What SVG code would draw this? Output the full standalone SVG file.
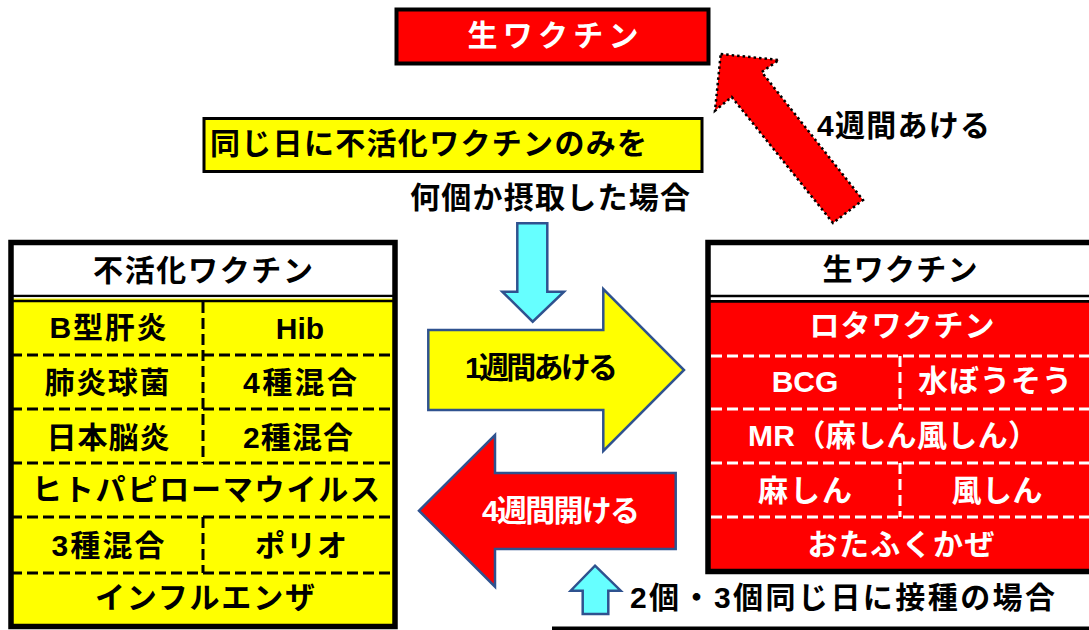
<svg xmlns="http://www.w3.org/2000/svg" width="1089" height="630" viewBox="0 0 1089 630">
<style>
.t{font-family:"Liberation Sans","Noto Sans CJK JP","Noto Sans CJK SC",sans-serif;font-weight:bold;text-anchor:middle;font-size:30px}
.b{fill:#000}
.w{fill:#fff}
.dk{stroke:#000;stroke-width:3;stroke-dasharray:11 5;fill:none}
.dw{stroke:#fff;stroke-width:3;stroke-dasharray:11 5;fill:none}
.blk{fill:none;stroke:#000;stroke-width:5.5}
.arr{stroke:#2F528F;stroke-width:2.5;stroke-linejoin:miter}
</style>
<rect width="1089" height="630" fill="#fff"/>

<g id="top-live">
<rect x="396.5" y="9.5" width="312" height="54" fill="#f00" stroke="#000" stroke-width="4"/>
<text class="t w" x="553" y="46" font-size="31" textLength="171" lengthAdjust="spacing">生ワクチン</text>
</g>

<g id="same-day-inactive">
<rect x="204" y="118.5" width="498" height="53" fill="#ff0" stroke="#000" stroke-width="3"/>
<text class="t b" x="428.5" y="154" font-size="31" textLength="437" lengthAdjust="spacing">同じ日に不活化ワクチンのみを</text>
<text class="t b" x="550" y="208" font-size="31" textLength="280" lengthAdjust="spacing">何個か摂取した場合</text>
</g>

<g id="inactive-table">
<rect x="11" y="242.5" width="384" height="53" fill="#fff"/>
<rect x="11" y="298" width="384" height="328" fill="#ff0"/>
<line x1="11" y1="296" x2="395" y2="296" stroke="#000" stroke-width="2.5"/>
<line x1="11" y1="297.8" x2="395" y2="297.8" stroke="#fff" stroke-width="1.2"/>
<line x1="11" y1="301" x2="395" y2="301" stroke="#000" stroke-width="2.5"/>
<line class="dk" x1="11" y1="355" x2="395" y2="355"/>
<line class="dk" x1="11" y1="409" x2="395" y2="409"/>
<line class="dk" x1="11" y1="463" x2="395" y2="463"/>
<line class="dk" x1="11" y1="517" x2="395" y2="517"/>
<line class="dk" x1="11" y1="573" x2="395" y2="573"/>
<line class="dk" x1="203" y1="302" x2="203" y2="463"/>
<line class="dk" x1="203" y1="517" x2="203" y2="573"/>
<rect class="blk" x="11" y="242.5" width="384" height="384"/>
<text class="t b" x="203" y="281" textLength="220" lengthAdjust="spacing">不活化ワクチン</text>
<text class="t b" x="108" y="338" textLength="117" lengthAdjust="spacing">B型肝炎</text>
<text class="t b" x="300" y="339" font-size="32">Hib</text>
<text class="t b" x="107" y="393" textLength="125" lengthAdjust="spacing">肺炎球菌</text>
<text class="t b" x="300" y="393" textLength="114" lengthAdjust="spacing">4種混合</text>
<text class="t b" x="108" y="448" textLength="123" lengthAdjust="spacing">日本脳炎</text>
<text class="t b" x="298" y="448" textLength="110" lengthAdjust="spacing">2種混合</text>
<text class="t b" x="206" y="500" textLength="348" lengthAdjust="spacing">ヒトパピローマウイルス</text>
<text class="t b" x="108" y="556" textLength="113" lengthAdjust="spacing">3種混合</text>
<text class="t b" x="301" y="556" textLength="92" lengthAdjust="spacing">ポリオ</text>
<text class="t b" x="205" y="608" textLength="220" lengthAdjust="spacing">インフルエンザ</text>
</g>

<g id="live-table">
<rect x="708" y="242.5" width="390" height="53" fill="#fff"/>
<rect x="708" y="302" width="390" height="269" fill="#f00"/>
<line x1="708" y1="296" x2="1095" y2="296" stroke="#000" stroke-width="2.5"/>
<line x1="708" y1="301.3" x2="1095" y2="301.3" stroke="#000" stroke-width="2.8"/>
<line class="dw" x1="711" y1="356" x2="1095" y2="356"/>
<line class="dw" x1="711" y1="409" x2="1095" y2="409"/>
<line class="dw" x1="711" y1="463" x2="1095" y2="463"/>
<line class="dw" x1="711" y1="517" x2="1095" y2="517"/>
<line class="dw" x1="900" y1="356" x2="900" y2="409"/>
<line class="dw" x1="900" y1="463" x2="900" y2="517"/>
<rect class="blk" x="708" y="242.5" width="390" height="329"/>
<text class="t b" x="900" y="280" textLength="155" lengthAdjust="spacing">生ワクチン</text>
<text class="t w" x="902" y="336" textLength="185" lengthAdjust="spacing">ロタワクチン</text>
<text class="t w" x="805" y="392" font-size="32">BCG</text>
<text class="t w" x="995" y="391" textLength="154" lengthAdjust="spacing">水ぼうそう</text>
<text class="t w" x="893" y="446" textLength="290" lengthAdjust="spacing">MR（麻しん風しん）</text>
<text class="t w" x="805" y="501" textLength="94" lengthAdjust="spacing">麻しん</text>
<text class="t w" x="997" y="501" textLength="91" lengthAdjust="spacing">風しん</text>
<text class="t w" x="901" y="555" textLength="187" lengthAdjust="spacing">おたふくかぜ</text>
</g>

<g id="connectors">
<polygon points="720.7,54 779,60 761.7,72 863,200 833,223 731.7,97 715,110.7" fill="#f00" stroke="#000" stroke-width="2.5" stroke-dasharray="2.5 3"/>
<text class="t b" x="903.5" y="136" font-size="29" textLength="173" lengthAdjust="spacing">4週間あける</text>

<polygon class="arr" points="517.3,223.3 547.3,223.3 547.3,291.7 564,291.7 532.7,321.7 502.3,291.7 517.3,291.7" fill="#66FFFF"/>

<polygon class="arr" points="428.3,330 603.3,330 603.3,289 684,370 603.3,451 603.3,410 428.3,410" fill="#ff0"/>
<text class="t b" x="541.5" y="378" font-size="27" textLength="153" lengthAdjust="spacing">1週間あける</text>

<polygon class="arr" points="675.7,473 495,473 495,435 419,510.7 495,586.7 495,549 675.7,549" fill="#f00"/>
<text class="t w" x="561" y="521" font-size="27" textLength="158" lengthAdjust="spacing">4週間開ける</text>

<polygon class="arr" points="595,565.7 620.7,590.7 608.3,590.7 608.3,614 582.7,614 582.7,590.7 570.7,590.7" fill="#66FFFF"/>
<text class="t b" x="842.5" y="608" textLength="425" lengthAdjust="spacing">2個・3個同じ日に接種の場合</text>
<rect x="552" y="626.5" width="537" height="3.5" fill="#000"/>
</g>
</svg>
